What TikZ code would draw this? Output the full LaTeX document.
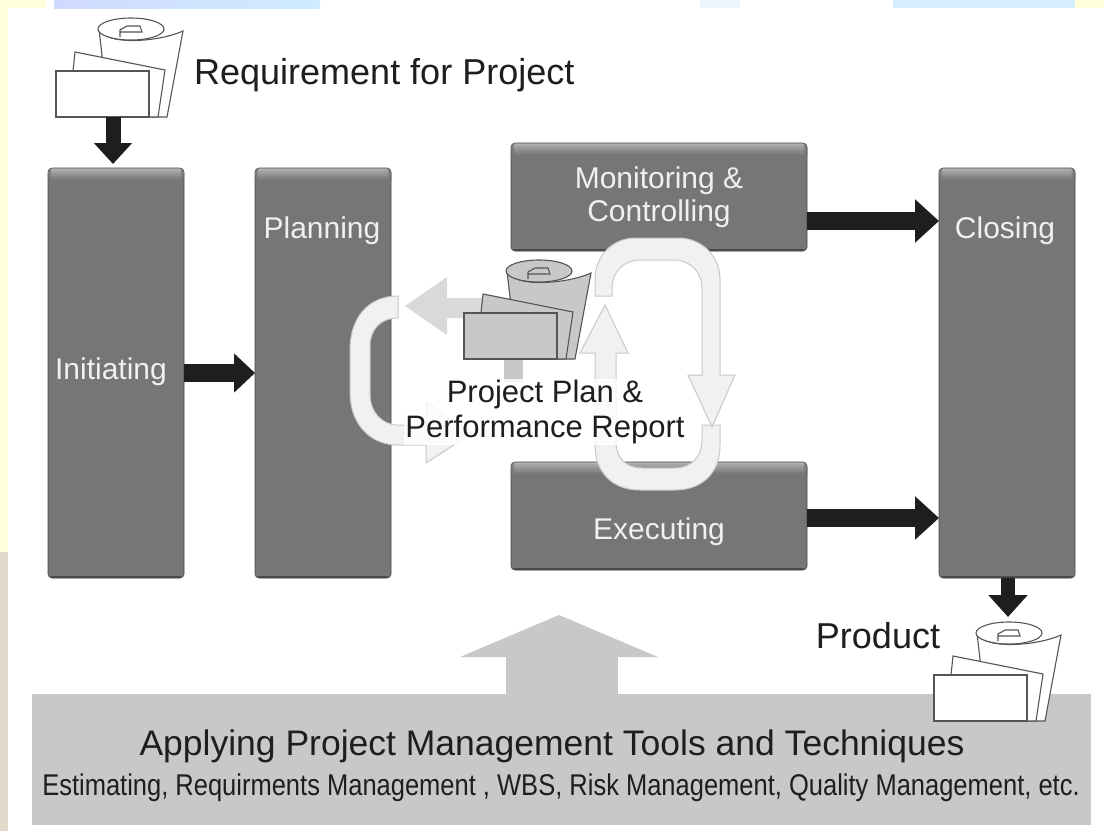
\documentclass[tikz,border=0pt]{standalone}
\usepackage{fontspec}
\setmainfont{Liberation Sans}
\newfontfamily\narrowfont[FakeStretch=0.85]{Liberation Sans}
\usepackage{xcolor}
\usepackage{tikz}
\usetikzlibrary{arrows.meta}

\definecolor{boxgray}{HTML}{767676}
\definecolor{boxtop}{HTML}{B0B0B0}
\definecolor{boxedge}{HTML}{4A4A4A}
\definecolor{bandgray}{HTML}{C8C8C8}
\definecolor{inkblack}{HTML}{1E1E1E}
\definecolor{docline}{HTML}{555555}
\definecolor{loopfill}{HTML}{F1F1F1}
\definecolor{loopline}{HTML}{C8C8C8}
\definecolor{sidepale}{HTML}{FFFFD9}
\definecolor{sidebeige}{HTML}{E2DBCC}
\definecolor{topblue}{HTML}{CFDAFF}
\definecolor{topsky}{HTML}{CFEBFF}

\tikzset{
    phasebox/.style={rectangle, rounded corners=4pt, fill=boxgray, draw=boxedge, line width=0.6pt, inner sep=0pt, outer sep=0pt,
        path picture={
            \foreach \drop/\amount in {0/100,2/82,4/64,6/46,8/28,10/10}
                \fill[boxtop!\amount!boxgray] ([yshift=-\drop pt]path picture bounding box.north west) rectangle ([yshift=-\drop pt-2pt]path picture bounding box.north east);
            \fill[boxedge] (path picture bounding box.south west) rectangle ([yshift=2pt]path picture bounding box.south east);
        }},
    phaselabel/.style={text=white!94!black, font=\fontsize{30}{33}\selectfont, align=center, inner sep=0pt},
    bodylabel/.style={text=inkblack, font=\fontsize{36}{40}\selectfont, inner sep=0pt},
    flowarrow/.style={draw=inkblack, line width=#1},
    flowarrow/.default=18pt,
    looppath/.style={fill=loopfill, draw=loopline, line width=1pt},
    docicon/.pic={
        \filldraw[draw=docline, line width=1.1pt] (46,-62) -- (43,-88) .. controls (48,-72) and (100,-74) .. (127,-86) -- (111,0) -- (46,0) -- cycle;
        \filldraw[draw=docline, line width=1.1pt] (75,-88) ellipse [x radius=33, y radius=11];
        \draw[docline, line width=1.1pt] (64,-80) -- (64,-87) -- (71,-91) -- (84,-91) -- (86,-85) -- (64,-85);
        \filldraw[draw=docline, line width=1.1pt] (17,-46) -- (19,-65) -- (109,-47) -- (102,0) -- (17,0) -- cycle;
        \filldraw[draw=docline, line width=1.1pt] (0,0) rectangle (93,-46);
    }
}

\begin{document}
\begin{tikzpicture}[x=1pt, y=-1pt]
    \useasboundingbox (0,0) rectangle (1104,831);
    \fill[white] (0,0) rectangle (1104,831);
    % page margin
    \fill[sidepale] (0,0) rectangle (46,8);
    \fill[sidepale] (0,0) rectangle (8,552);
    \fill[sidebeige] (0,552) rectangle (8,831);
    \shade[left color=topblue, right color=topsky] (54,0) rectangle (320,8);
    \fill[topsky!40] (700,0) rectangle (740,8);
    \fill[topsky!90] (893,0) rectangle (1075,8);
    \fill[sidepale] (1075,0) rectangle (1104,8);

    % phases
    \node[phasebox, minimum width=136pt, minimum height=410pt] (initiating) at (116,373) {};
    \node[phasebox, minimum width=136pt, minimum height=410pt] (planning) at (323,373) {};
    \node[phasebox, minimum width=296pt, minimum height=108pt] (monitoring) at (659,197) {};
    \node[phasebox, minimum width=296pt, minimum height=108pt] (executing) at (659,516) {};
    \node[phasebox, minimum width=136pt, minimum height=410pt] (closing) at (1007,373) {};

    % tools band
    \fill[bandgray] (32,694) rectangle (1091,825);
    \node[fill=bandgray, minimum width=112pt, minimum height=40pt, inner sep=0pt] (toolsstem) at (562,675) {};
    \fill[bandgray] (460,657) -- (559,615) -- (658,657) -- cycle;

    % documents
    \coordinate (reqdoc) at (113,117);
    \coordinate (productdoc) at (1008,617);
    \pic[fill=white] at (56,117) {docicon};
    \pic[fill=white] at (934,721) {docicon};

    % black arrows
    \draw[flowarrow=15pt, -{Triangle[length=21pt, width=37pt]}] (reqdoc) -- (reqdoc |- 0,164);
    \draw[flowarrow, -{Triangle[length=21pt, width=38pt]}] (initiating.east) -- (planning.west);
    \draw[flowarrow, -{Triangle[length=24pt, width=42pt]}] (monitoring.east |- 0,221) -- (closing.west |- 0,221);
    \draw[flowarrow, -{Triangle[length=24pt, width=42pt]}] (executing.east |- 0,518) -- (closing.west |- 0,518);
    \draw[flowarrow=14pt, -{Triangle[length=22pt, width=38pt]}] (productdoc |- closing.south) -- (productdoc);

    % loops round the plan
    \path[looppath] (720,425) -- (720,445) .. controls (720,475) and (700,490) .. (675,490) -- (640,490) .. controls (612,490) and (595,472) .. (595,445) -- (595,353) -- (580,353) -- (605,305) -- (628,353) -- (616,353) -- (616,442) .. controls (616,458) and (626,468) .. (642,468) -- (675,468) .. controls (692,468) and (702,456) .. (702,440) -- (702,425) -- cycle;
    \path[looppath] (595,296) -- (595,280) .. controls (595,256) and (612,238) .. (636,238) -- (678,238) .. controls (702,238) and (720,256) .. (720,280) -- (720,375) -- (735,375) -- (712,427) -- (688,375) -- (702,375) -- (702,288) .. controls (702,272) and (690,260) .. (674,260) -- (640,260) .. controls (624,260) and (612,272) .. (612,288) -- (612,296) -- cycle;
    \path[looppath] (398,296) .. controls (368,296) and (350,318) .. (350,350) -- (350,392) .. controls (350,424) and (370,445) .. (398,445) -- (426,445) -- (426,463) -- (471,434) -- (426,402) -- (426,425) -- (398,425) .. controls (382,425) and (370,412) .. (370,394) -- (370,346) .. controls (370,330) and (380,318) .. (398,318) -- cycle;
    \fill[loopfill!90!black] (447,277) -- (405,306) -- (447,335) -- (447,318) -- (490,318) -- (490,298) -- (447,298) -- cycle;
    \fill[bandgray] (504,355) rectangle (523,382);
    \pic[fill=bandgray] at (464,359) {docicon};

    % labels
    \node[phaselabel] (initiatinglabel) at (111,372) {Initiating};
    \node[phaselabel] (planninglabel) at (322,231) {Planning};
    \node[phaselabel] (monitoringlabel) at (659,197) {Monitoring \&\\Controlling};
    \node[phaselabel] (executinglabel) at (659,532) {Executing};
    \node[phaselabel] (closinglabel) at (1005,231) {Closing};
    \node[bodylabel, anchor=west] (reqlabel) at (194,75) {Requirement for Project};
    \node[bodylabel] (productlabel) at (878,636) {Product};
    \node[bodylabel, font=\fontsize{31}{35}\selectfont, fill=white, fill opacity=.8, text opacity=1, align=center, inner sep=1pt] (planlabel) at (545,412) {Project Plan \&\\Performance Report};
    \node[bodylabel, font=\fontsize{35.5}{40}\selectfont] (toolslabel) at (552,746) {Applying Project Management Tools and Techniques};
    \node[bodylabel, font=\narrowfont\fontsize{30}{34}\selectfont] (techlabel) at (561,788) {Estimating, Requirments Management , WBS, Risk Management, Quality Management, etc.};
\end{tikzpicture}
\end{document}
